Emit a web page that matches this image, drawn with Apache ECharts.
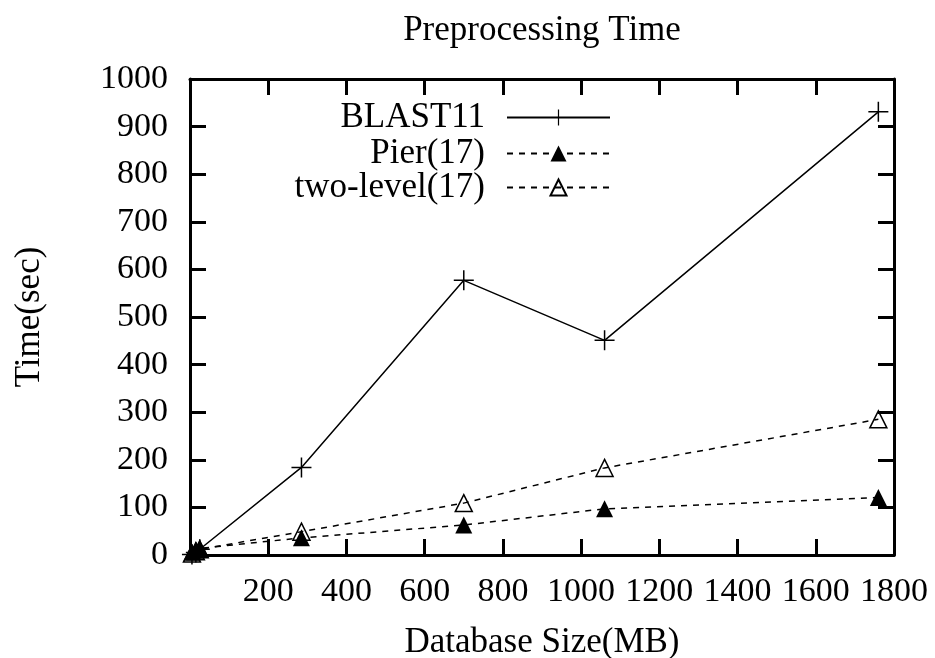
<!DOCTYPE html>
<html>
<head>
<meta charset="utf-8">
<script src="https://cdn.jsdelivr.net/npm/echarts@6/dist/echarts.min.js"></script>
<style>
html,body{margin:0;padding:0;background:#fff;}
#chart{width:935px;height:658px;}
</style>
</head>
<body>
<div id="chart"></div>
<script>
// Database sizes (MB)
const sizes = [5, 15, 25, 285, 700, 1060, 1760];
// Preprocessing time (sec)
const blast11 = [1, 5, 12, 184, 577, 451, 931];
const pier17 = [6, 10, 14, 36, 63, 97, 121];
const twoLevel17 = [3, 8, 12, 49, 109, 183, 285];
const seriesNames = ['BLAST11', 'Pier(17)', 'two-level(17)'];
const xTicks = [0, 200, 400, 600, 800, 1000, 1200, 1400, 1600, 1800];
const yTicks = [0, 100, 200, 300, 400, 500, 600, 700, 800, 900, 1000];

const FONT = 'Liberation Serif';
const FS = 34;
const FS_NAME = 35;
const pair = (xs, ys) => xs.map((x, i) => [x, ys[i]]);
const plusPath = 'path://M0,9.25H20V10.75H0Z M9.25,0H10.75V20H9.25Z';
const plain = v => String(v);

const chart = echarts.init(document.getElementById('chart'), null, {renderer: 'canvas'});

function axisBase() {
  return {
    type: 'value',
    axisLine: {show: true, onZero: false, lineStyle: {color: '#000', width: 3}},
    axisTick: {show: true, inside: true, length: 16, lineStyle: {color: '#000', width: 3}},
    splitLine: {show: false}
  };
}

function legendFor(name, top) {
  return {
    data: [name],
    right: 319,
    top: top,
    align: 'right',
    orient: 'vertical',
    itemWidth: 103,
    itemHeight: 20,
    selectedMode: false,
    textStyle: {fontFamily: FONT, fontSize: FS_NAME, color: '#000', padding: [0, 17, 0, 0], lineHeight: 34}
  };
}

chart.setOption({
  animation: false,
  backgroundColor: '#fff',
  title: {
    text: 'Preprocessing Time',
    left: 537,
    textAlign: 'center',
    top: 8,
    textStyle: {fontFamily: FONT, fontSize: FS_NAME, fontWeight: 'normal', color: '#000'}
  },
  legend: [legendFor(seriesNames[0], 95), legendFor(seriesNames[1], 131), legendFor(seriesNames[2], 165)],
  grid: {left: 190, right: 41, top: 79, bottom: 103, containLabel: false, outerBoundsMode: 'none'},
  xAxis: [
    Object.assign(axisBase(), {
      position: 'bottom', min: xTicks[0], max: xTicks[xTicks.length - 1], interval: 200,
      name: 'Database Size(MB)', nameLocation: 'middle', nameGap: 70,
      nameTextStyle: {fontFamily: FONT, fontSize: FS_NAME, color: '#000'},
      axisLabel: {show: true, showMinLabel: false, margin: 20, formatter: plain, fontFamily: FONT, fontSize: FS, color: '#000'}
    }),
    Object.assign(axisBase(), {
      position: 'top', min: xTicks[0], max: xTicks[xTicks.length - 1], interval: 200,
      axisLabel: {show: false}
    })
  ],
  yAxis: [
    Object.assign(axisBase(), {
      position: 'left', min: yTicks[0], max: yTicks[yTicks.length - 1], interval: 100,
      name: 'Time(sec)', nameLocation: 'middle', nameGap: 143, nameRotate: 90,
      nameTextStyle: {fontFamily: FONT, fontSize: FS_NAME, color: '#000'},
      axisLabel: {show: true, margin: 22, formatter: plain, fontFamily: FONT, fontSize: FS, color: '#000'}
    }),
    Object.assign(axisBase(), {
      position: 'right', min: yTicks[0], max: yTicks[yTicks.length - 1], interval: 100,
      axisLabel: {show: false}
    })
  ],
  series: [
    {
      name: seriesNames[0], type: 'line', data: pair(sizes, blast11),
      symbol: plusPath, symbolSize: 20, showAllSymbol: true,
      lineStyle: {color: '#000', width: 1.5, type: 'solid'},
      itemStyle: {color: '#000'}
    },
    {
      name: seriesNames[1], type: 'line', data: pair(sizes, pier17),
      symbol: 'triangle', symbolSize: 17, showAllSymbol: true,
      lineStyle: {color: '#000', width: 1.5, type: [6, 6]},
      itemStyle: {color: '#000'}
    },
    {
      name: seriesNames[2], type: 'line', data: pair(sizes, twoLevel17),
      symbol: 'triangle', symbolSize: 17, showAllSymbol: true,
      lineStyle: {color: '#000', width: 1.5, type: [6, 6]},
      itemStyle: {color: 'rgba(255,255,255,0)', borderColor: '#000', borderWidth: 1.5}
    }
  ]
});
</script>
</body>
</html>
